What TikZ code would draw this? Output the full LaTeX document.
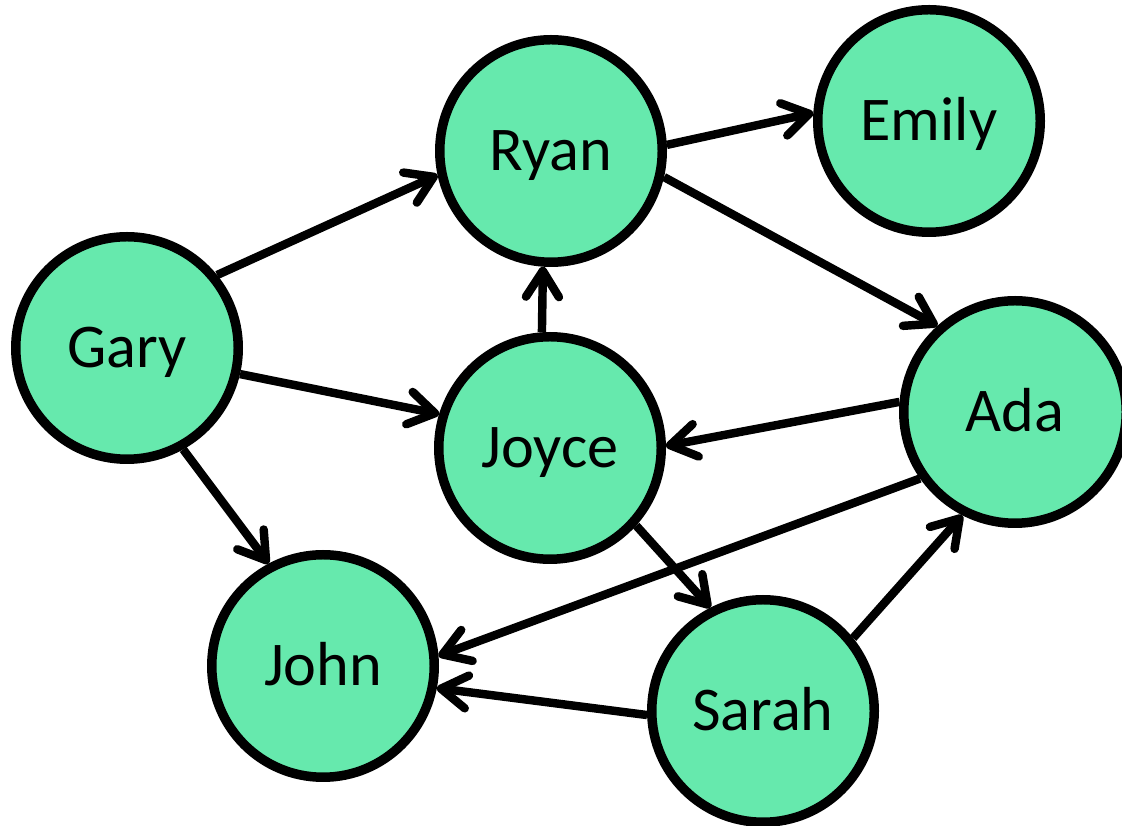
\documentclass[tikz,border=0pt]{standalone}
\usepackage{fontspec}
\setmainfont{Carlito}
\usepackage{tikz}
\usetikzlibrary{positioning,arrows.meta}
\definecolor{netgreen}{HTML}{66E9AD}
\tikzset{
    person/.style={circle,draw=black,fill=netgreen,line width=5.4pt,minimum size=4.45cm,inner sep=0pt,
        font=\fontsize{35.4}{42}\selectfont,text height=0.8cm,text depth=0pt},
    every edge/.style={draw,line width=4.8pt,-{Straight Barb[round,length=0.52cm,width=0.66cm]}},
}

\begin{document}
\begin{tikzpicture}
    \useasboundingbox (0,0) rectangle (22.44,16.52);
    \node[person] (gary) at (2.54,9.56) {Gary};
    \node[person] (ryan) at (11.02,13.50) {Ryan};
    \node[person] (emily) at (18.58,14.10) {Emily};
    \node[person] (joyce) at (11.00,7.56) {Joyce};
    \node[person] (ada) at (20.30,8.28) {Ada};
    \node[person] (john) at (6.46,3.20) {John};
    \node[person] (sarah) at (15.26,2.30) {Sarah};

    \path
    (gary.39) edge (ryan.192)
    (gary.-13) edge (joyce.163)
    (gary.-61) edge (john.118)
    (ryan.3) edge (emily.176)
    (ryan.-13) edge (ada.132)
    (joyce.94) edge (ryan.266)
    (joyce.-42) edge (sarah.117)
    (ada.175) edge (joyce.1)
    (ada.215) edge (john.5)
    (sarah.39) edge (ada.243)
    (sarah.182) edge (john.-11);
\end{tikzpicture}
\end{document}
